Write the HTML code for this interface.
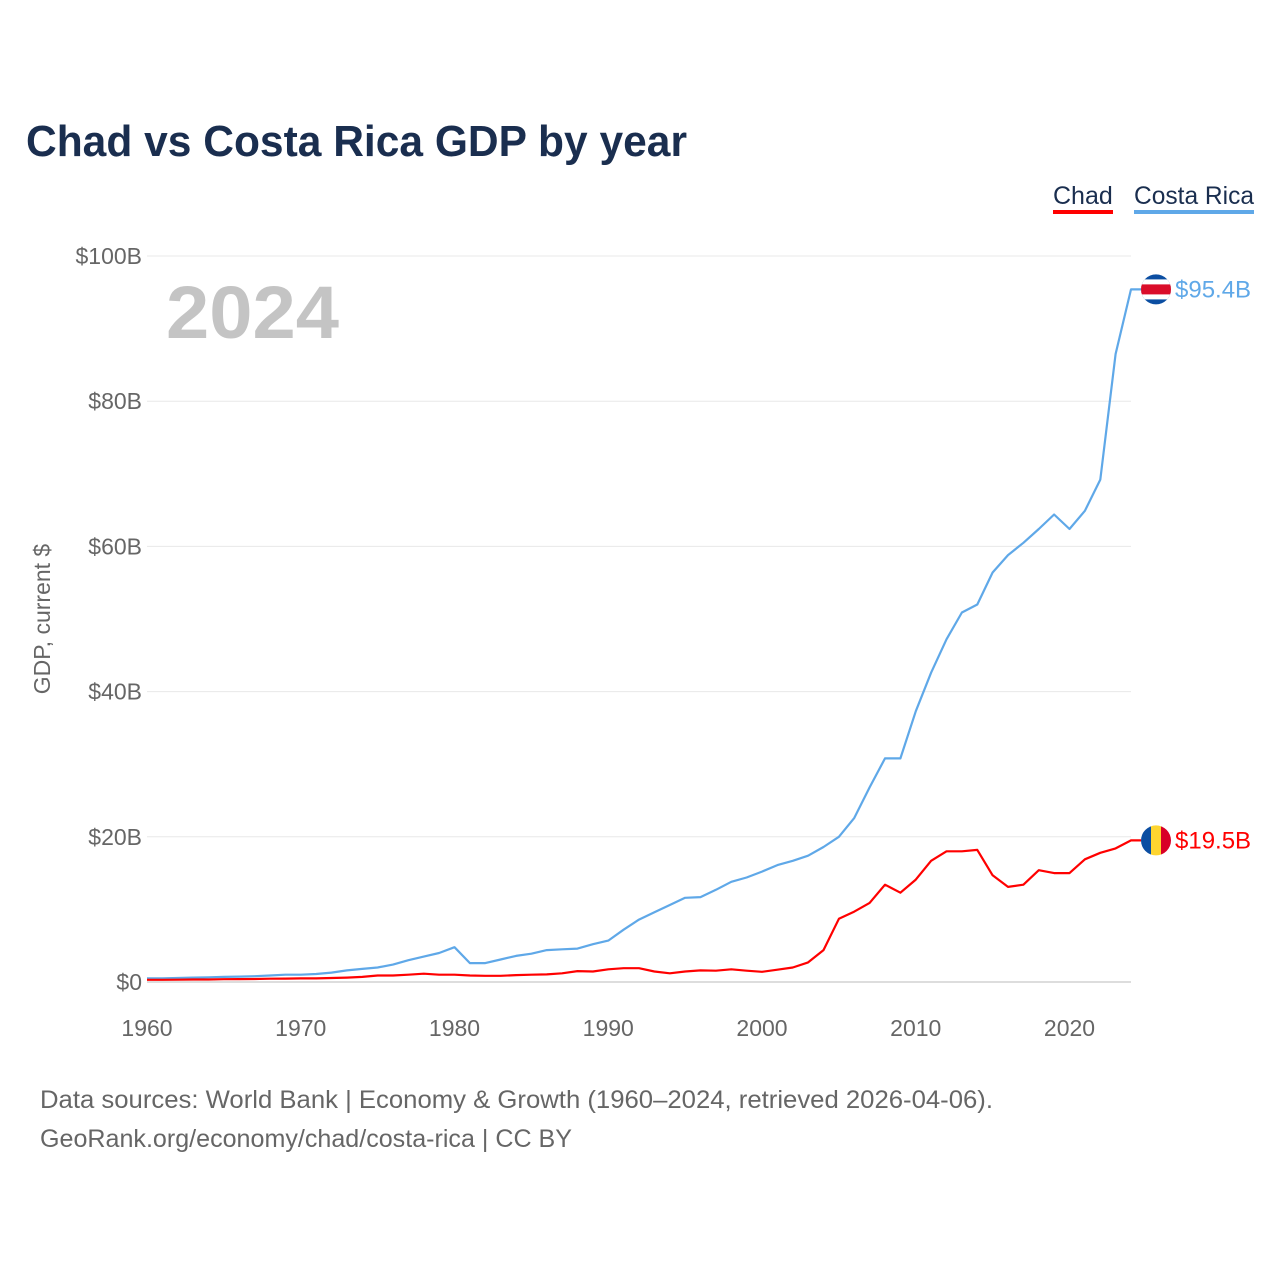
<!DOCTYPE html>
<html><head><meta charset="utf-8">
<style>
body{margin:0;background:#fff;width:1280px;height:1280px;overflow:hidden;font-family:"Liberation Sans",sans-serif;}
svg text{font-family:"Liberation Sans",sans-serif;}
</style></head>
<body>
<svg id="chart" width="1280" height="1280" xmlns="http://www.w3.org/2000/svg">
<text x="26" y="156" font-size="44" font-weight="bold" fill="#1a2e4f" textLength="661" lengthAdjust="spacingAndGlyphs">Chad vs Costa Rica GDP by year</text>
<g>
<text x="1053" y="204" font-size="25" fill="#1a2e4f">Chad</text>
<rect x="1053" y="210" width="60" height="4" fill="#ff0000"/>
<text x="1134" y="204" font-size="25" fill="#1a2e4f" textLength="120" lengthAdjust="spacingAndGlyphs">Costa Rica</text>
<rect x="1134" y="210" width="120" height="4" fill="#5fa8e8"/>
</g>
<text x="166" y="338" font-size="74" font-weight="bold" fill="#c4c4c4" textLength="173" lengthAdjust="spacingAndGlyphs">2024</text>
<text transform="translate(50,619) rotate(-90)" text-anchor="middle" font-size="23" fill="#666">GDP, current $</text>
<g id="grid"></g><g id="lines"></g><g id="labels"></g>
<text x="40" y="1108" font-size="25" fill="#666" textLength="953" lengthAdjust="spacingAndGlyphs">Data sources: World Bank | Economy &amp; Growth (1960–2024, retrieved 2026-04-06).</text>
<text x="40" y="1147" font-size="25" fill="#666" textLength="532" lengthAdjust="spacingAndGlyphs">GeoRank.org/economy/chad/costa-rica | CC BY</text>
</svg>
<script>
const years = Array.from({length:65},(_,i)=>1960+i);
const costaRica = [0.5,0.5,0.55,0.6,0.65,0.7,0.75,0.8,0.9,1.0,1.0,1.1,1.3,1.6,1.8,2.0,2.4,3.0,3.5,4.0,4.8,2.6,2.6,3.1,3.6,3.9,4.4,4.5,4.6,5.2,5.7,7.2,8.6,9.6,10.6,11.6,11.7,12.7,13.8,14.4,15.2,16.1,16.7,17.4,18.6,20.0,22.6,26.8,30.8,30.8,37.3,42.6,47.2,50.9,52.0,56.4,58.8,60.5,62.4,64.4,62.4,64.9,69.2,86.5,95.4];
const chad = [0.3,0.3,0.32,0.34,0.35,0.38,0.4,0.42,0.45,0.47,0.5,0.5,0.55,0.6,0.7,0.9,0.9,1.0,1.15,1.0,1.0,0.9,0.85,0.85,0.95,1.0,1.05,1.2,1.5,1.45,1.75,1.9,1.9,1.45,1.2,1.45,1.6,1.55,1.75,1.55,1.4,1.7,2.0,2.7,4.4,8.7,9.7,10.9,13.4,12.3,14.1,16.7,18.0,18.0,18.2,14.7,13.1,13.4,15.4,15.0,15.0,16.9,17.8,18.4,19.5];
const yTicks = [0,20,40,60,80,100];
const yTickLabels = ['$0','$20B','$40B','$60B','$80B','$100B'];
const xTicks = [1960,1970,1980,1990,2000,2010,2020];
const NS="http://www.w3.org/2000/svg";
const x = y => 147 + (y-1960)*(1131-147)/64;
const yv = v => 982 - v*7.26;
function mk(tag,attrs,parent){const e=document.createElementNS(NS,tag);for(const k in attrs)e.setAttribute(k,attrs[k]);parent.appendChild(e);return e;}
const grid=document.getElementById('grid'),lines=document.getElementById('lines'),labels=document.getElementById('labels');
yTicks.forEach((t,i)=>{
  const l=mk('line',{x1:147,x2:1131,y1:yv(t),y2:yv(t),stroke:t===0?'#ddd':'#e8e8e8','stroke-width':t===0?2:1},grid);
  
  
  const tx=mk('text',{x:142,y:yv(t)+8,'text-anchor':'end','font-size':23,fill:'#666'},grid);
  tx.textContent=yTickLabels[i];
  
  
});
xTicks.forEach(t=>{
  const tx=mk('text',{x:x(t),y:1036,'text-anchor':'middle','font-size':23,fill:'#666'},grid);
  tx.textContent=t;
  
  
});
function series(vals,color,name){
  const d=vals.map((v,i)=>(i?'L':'M')+x(years[i]).toFixed(1)+','+yv(v).toFixed(1)).join('')+'L'+(x(2024)+10)+','+yv(vals[vals.length-1]).toFixed(1);
  const p=mk('path',{d:d,fill:'none',stroke:color,'stroke-width':2.2,'stroke-linejoin':'round'},lines);
  
  
}
series(costaRica,'#5fa8e8','costa-rica');
series(chad,'#ff0000','chad');
function flagCR(cy){
  const g=mk('g',{},labels);
  
  
  const cp=mk('clipPath',{id:'c1'},g);mk('circle',{cx:1156,cy:cy,r:15},cp);
  const gg=mk('g',{'clip-path':'url(#c1)'},g);
  mk('rect',{x:1140,y:cy-16,width:32,height:32,fill:'#0b4ea2'},gg);
  mk('rect',{x:1140,y:cy-10,width:32,height:20,fill:'#fff'},gg);
  mk('rect',{x:1140,y:cy-5,width:32,height:10,fill:'#da0d2a'},gg);
}
function flagTD(cy){
  const g=mk('g',{},labels);
  
  
  const cp=mk('clipPath',{id:'c2'},g);mk('circle',{cx:1156,cy:cy,r:15},cp);
  const gg=mk('g',{'clip-path':'url(#c2)'},g);
  mk('rect',{x:1140,y:cy-16,width:11,height:32,fill:'#0b4ea2'},gg);
  mk('rect',{x:1151,y:cy-16,width:10,height:32,fill:'#fed530'},gg);
  mk('rect',{x:1161,y:cy-16,width:12,height:32,fill:'#d80027'},gg);
}
const crY=yv(costaRica[64]), tdY=yv(chad[64]);
flagCR(crY); flagTD(tdY);
const t1=mk('text',{x:1175,y:crY+8,'font-size':24,fill:'#5fa8e8'},labels);t1.textContent='$'+costaRica[64]+'B';


const t2=mk('text',{x:1175,y:tdY+8,'font-size':24,fill:'#ff0000'},labels);t2.textContent='$'+chad[64]+'B';


</script>
</body></html>
